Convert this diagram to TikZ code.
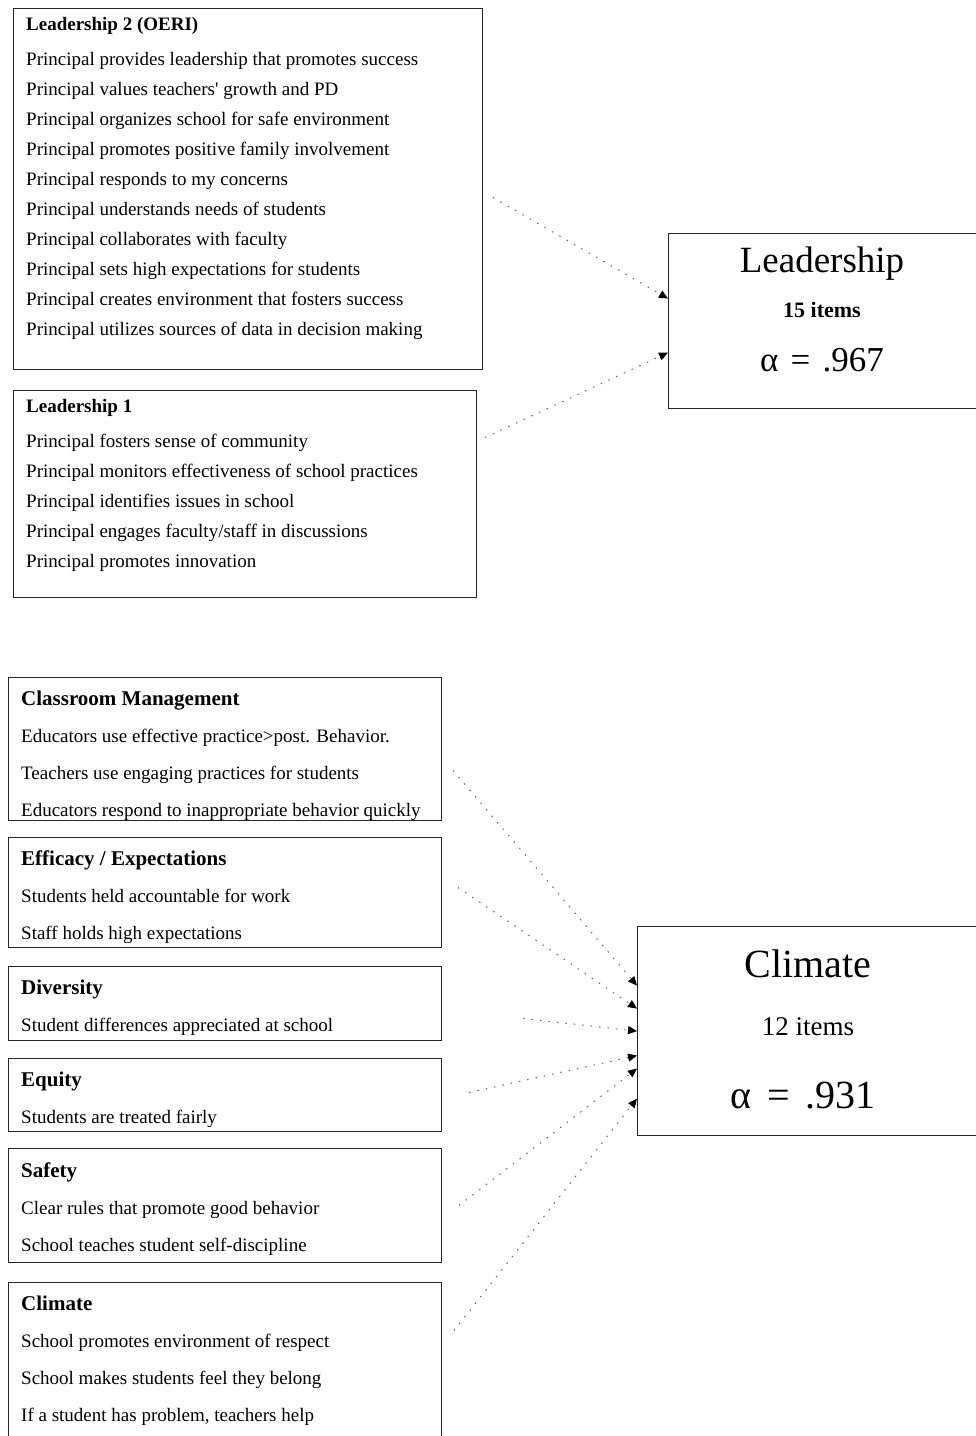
\documentclass[tikz,border=0pt]{standalone}
\usepackage{fontspec}
\setmainfont{Liberation Serif}
\usetikzlibrary{arrows.meta,positioning}

\newcommand{\boxhead}[1]{{\fontsize{21}{37}\selectfont\bfseries #1}}

\tikzset{
  itembox/.style={draw=black!85, line width=1pt, anchor=north west, inner sep=0pt},
  toptext/.style={anchor=north west, align=left, inner sep=0pt, font=\fontsize{19}{30}\selectfont},
  lowtext/.style={anchor=north west, align=left, inner sep=0pt, font=\fontsize{19}{37}\selectfont},
  scorebox/.style={draw=black!85, line width=1.2pt, anchor=north west, inner sep=0pt},
  link/.style={draw=black!60, line width=1pt, dash pattern=on 1.5pt off 7pt,
    -{Triangle[length=9pt,width=8pt,color=black]}}
}

\begin{document}
\begin{tikzpicture}[x=1pt,y=-1pt]
    \useasboundingbox (0,0) rectangle (976,1436);

    % Leadership item boxes
    \node[itembox, minimum width=469, minimum height=361] (L2) at (13,8) {};
    \node[toptext] (L2text) at (26,17) {\textbf{Leadership 2 (OERI)}\\[5pt]
        Principal provides leadership that promotes success\\
        Principal values teachers\textquotesingle{} growth and PD\\
        Principal organizes school for safe environment\\
        Principal promotes positive family involvement\\
        Principal responds to my concerns\\
        Principal understands needs of students\\
        Principal collaborates with faculty\\
        Principal sets high expectations for students\\
        Principal creates environment that fosters success\\
        Principal utilizes sources of data in decision making};

    \node[itembox, minimum width=463, minimum height=207] (L1) at (13,390) {};
    \node[toptext] (L1text) at (26,399) {\textbf{Leadership 1}\\[5pt]
        Principal fosters sense of community\\
        Principal monitors effectiveness of school practices\\
        Principal identifies issues in school\\
        Principal engages faculty/staff in discussions\\
        Principal promotes innovation};

    % Leadership scale
    \node[scorebox, minimum width=312, minimum height=175] (Lead) at (668,233) {};
    \node[anchor=base, font=\fontsize{37}{40}\selectfont] (leadName) at (822,272) {Leadership};
    \node[anchor=base, font=\fontsize{22}{26}\selectfont\bfseries] (leadItems) at (822,317) {15 items};
    \node[anchor=base, font=\fontsize{35}{38}\selectfont] (leadAlpha) at (822,371) {α\hspace{0.1em} = \hspace{0.1em}.967};

    \draw[link] ([shift={(10,8.5)}]L2.east) -- ([yshift=22.5pt]Lead.west);
    \draw[link] ([shift={(8,-56.5)}]L1.east) -- ([yshift=-31.5pt]Lead.west);

    % Climate item boxes
    \node[itembox, minimum width=433, minimum height=143] (CM) at (8,677) {};
    \node[lowtext] (CMtext) at (21,691) {\boxhead{Classroom Management}\\
        Educators use effective practice>post. Behavior.\\
        Teachers use engaging practices for students\\
        Educators respond to inappropriate behavior quickly};

    \node[itembox, minimum width=433, minimum height=110] (Eff) at (8,837) {};
    \node[lowtext] (Efftext) at (21,851) {\boxhead{Efficacy / Expectations}\\
        Students held accountable for work\\
        Staff holds high expectations};

    \node[itembox, minimum width=433, minimum height=74] (Div) at (8,966) {};
    \node[lowtext] (Divtext) at (21,980) {\boxhead{Diversity}\\
        Student differences appreciated at school};

    \node[itembox, minimum width=433, minimum height=73] (Equ) at (8,1058) {};
    \node[lowtext] (Equtext) at (21,1072) {\boxhead{Equity}\\
        Students are treated fairly};

    \node[itembox, minimum width=433, minimum height=114] (Saf) at (8,1148) {};
    \node[lowtext] (Saftext) at (21,1162) {\boxhead{Safety}\\
        Clear rules that promote good behavior\\
        School teaches student self-discipline};

    \node[itembox, minimum width=433, minimum height=158] (ClimItems) at (8,1282) {};
    \node[lowtext] (ClimItemstext) at (21,1296) {\boxhead{Climate}\\
        School promotes environment of respect\\
        School makes students feel they belong\\
        If a student has problem, teachers help};

    % Climate scale
    \node[scorebox, minimum width=343, minimum height=209] (Clim) at (637,926) {};
    \node[anchor=base, font=\fontsize{40}{44}\selectfont] (climName) at (808,977) {Climate};
    \node[anchor=base, font=\fontsize{27}{30}\selectfont] (climItems) at (808,1035) {12 items};
    \node[anchor=base, font=\fontsize{40}{42}\selectfont] (climAlpha) at (803,1108) {α\hspace{0.15em} = \hspace{0.15em}.931};

    \draw[link] ([shift={(11,21.5)}]CM.east) -- ([yshift=45.5pt]Clim.west);
    \draw[link] ([shift={(16,-5)}]Eff.east) -- ([yshift=22.5pt]Clim.west);
    \draw[link] ([shift={(81,15)}]Div.east) -- ([yshift=0pt]Clim.west);
    \draw[link] ([shift={(27,-2.5)}]Equ.east) -- ([yshift=-24.5pt]Clim.west);
    \draw[link] ([shift={(17,0)}]Saf.east) -- ([yshift=-37.5pt]Clim.west);
    \draw[link] ([shift={(12,-31)}]ClimItems.east) -- ([yshift=-67.5pt]Clim.west);

\end{tikzpicture}
\end{document}
